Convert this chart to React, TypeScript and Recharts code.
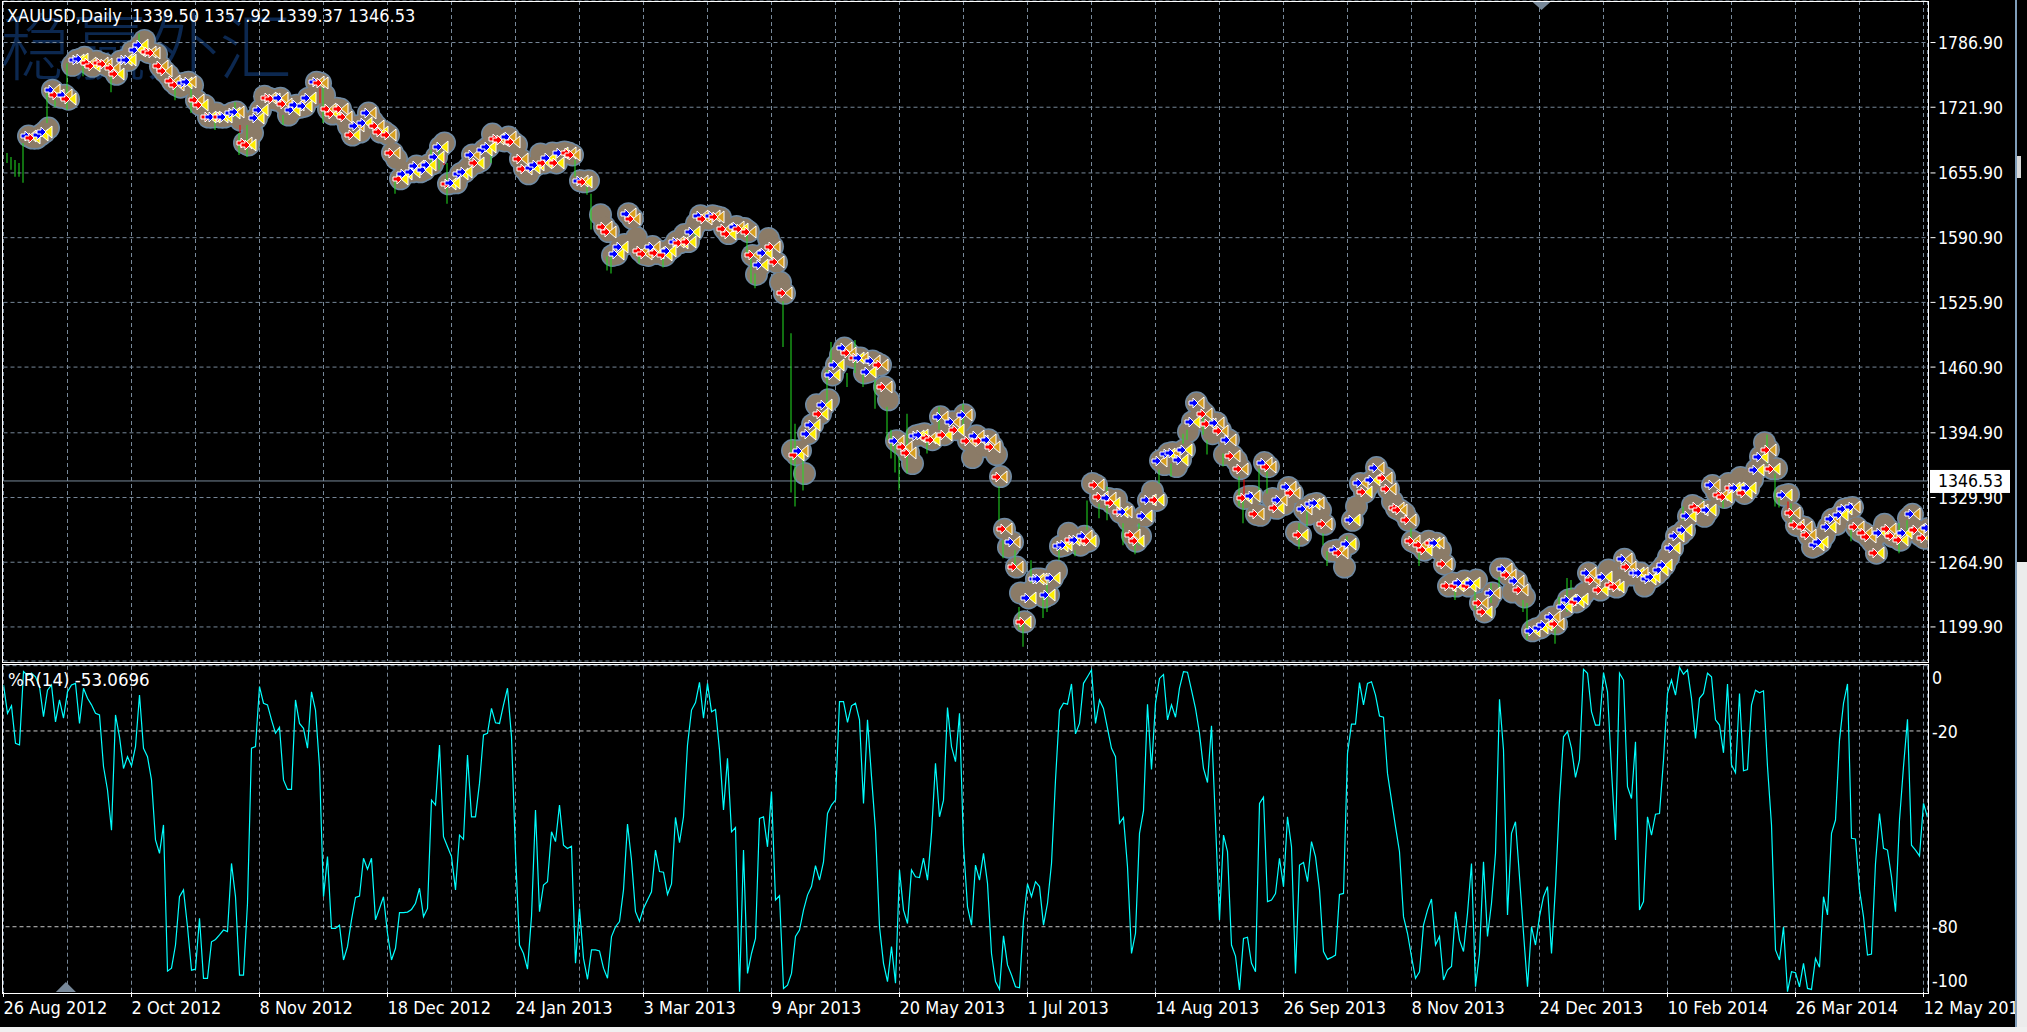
import React from "react";
import { ComposedChart, Line, Bar, Scatter, XAxis, YAxis, CartesianGrid, ReferenceLine, ReferenceDot } from "recharts";

const TITLE = "XAUUSD,Daily  1339.50 1357.92 1339.37 1346.53";
const WPR_TITLE = "%R(14) -53.0696";
const WATERMARK = "稳赢外汇";
const LAST_PRICE = 1346.53;
const priceTicks = [1786.9, 1721.9, 1655.9, 1590.9, 1525.9, 1460.9, 1394.9, 1329.9, 1264.9, 1199.9];
const wprTicks = [0, -20, -80, -100];
const gridBars = [16, 32, 48, 64, 80, 96, 112, 128, 144, 160, 176, 192, 208, 224, 240, 256, 272, 288, 304, 320, 336, 352, 368, 384, 400, 416, 432, 448, 464, 480];
const labelBars = [0, 32, 64, 96, 128, 160, 192, 224, 256, 288, 320, 352, 384, 416, 448, 480];
const dateLabels = ["26 Aug 2012", "2 Oct 2012", "8 Nov 2012", "18 Dec 2012", "24 Jan 2013", "3 Mar 2013", "9 Apr 2013", "20 May 2013", "1 Jul 2013", "14 Aug 2013", "26 Sep 2013", "8 Nov 2013", "24 Dec 2013", "10 Feb 2014", "26 Mar 2014", "12 May 2014"];

const closes: (number | null)[] = [
  null, null, null, null, null, null, 1693, 1691, 1691, 1694, 1697, 1701, 1739, 1734, 1732, 1734, 1730, 1764, 1769, 1770,
  1772, 1766, 1763, 1768, 1766, 1765, 1763, 1761, 1755, 1768, 1769, 1769, 1778, 1779, 1784, 1789, 1777, 1776, 1775, 1763,
  1758, 1754, 1748, 1744, 1742, 1746, 1747, 1744, 1729, 1724, 1724, 1712, 1712, 1716, 1712, 1712, 1714, 1716, 1717, 1709,
  1686, 1684, 1696, 1711, 1719, 1733, 1731, 1730, 1729, 1731, 1725, 1714, 1719, 1724, 1722, 1723, 1731, 1732, 1747, 1746,
  1734, 1720, 1715, 1721, 1720, 1712, 1703, 1694, 1703, 1697, 1706, 1716, 1708, 1703, 1697, 1697, 1694, 1676, 1670, 1650,
  1655, 1657, 1657, 1663, 1657, 1659, 1664, 1665, 1672, 1682, 1686, 1645, 1646, 1646, 1655, 1657, 1661, 1674, 1666, 1668,
  1679, 1682, 1695, 1690, 1689, 1688, 1692, 1687, 1684, 1670, 1660, 1655, 1661, 1664, 1675, 1666, 1671, 1676, 1666, 1676,
  1677, 1676, 1674, null, 1648, 1647, 1648, null, null, 1614, 1602, 1597, 1573, 1574, 1582, 1584, 1615, 1610, 1591, 1578,
  1574, 1573, 1582, 1575, 1577, 1573, 1578, 1581, 1587, 1586, 1594, 1587, 1597, 1605, 1613, 1610, 1609, 1613, 1612, 1611,
  1600, 1595, 1600, 1602, 1600, 1600, 1597, 1573, 1554, 1563, 1575, 1590, 1582, 1566, 1546, 1535, null, 1377, 1373, 1377,
  1354, 1394, 1403, 1423, 1414, 1423, 1428, 1453, 1463, 1473, 1480, 1475, 1471, 1470, 1470, 1455, 1456, 1467, 1465, 1463,
  1441, 1428, null, 1387, 1384, 1381, 1375, 1364, 1392, 1393, 1394, 1390, 1388, 1394, 1411, 1393, 1398, 1406, 1398, 1406,
  1413, 1387, 1370, 1392, 1387, 1381, 1388, 1381, 1373, 1351, 1298, 1280, 1285, 1260, 1234, 1205, 1229, 1237, 1248, 1248,
  1230, 1232, 1249, 1256, 1281, 1282, 1294, 1287, 1287, 1282, 1291, 1286, 1344, 1342, 1330, 1329, 1329, 1324, 1328, 1315,
  1315, 1307, 1292, 1286, 1291, 1311, 1327, 1336, 1327, 1367, 1363, 1374, 1375, 1361, 1368, 1378, 1396, 1406, 1425, 1418,
  1414, 1404, 1394, 1405, 1397, 1373, 1388, 1372, 1367, 1359, 1329, 1331, 1331, 1313, 1312, 1365, 1361, 1329, 1319, 1327,
  1323, 1340, 1334, 1295, 1292, 1318, 1313, 1323, 1324, 1317, 1303, null, 1276, 1277, 1274, 1260, 1283, 1307, 1321, 1344,
  1335, 1342, 1347, 1360, 1351, 1350, 1338, 1326, 1319, 1317, 1314, 1307, 1286, 1284, 1282, 1277, 1286, 1284, 1284, 1277,
  1263, 1241, 1244, 1241, 1244, 1246, 1241, 1244, 1247, 1224, 1215, 1227, 1234, null, 1258, 1258, 1252, 1235, 1246, 1237,
  1230, null, 1196, 1198, 1199, 1202, 1207, 1210, 1203, null, 1220, 1227, 1228, 1225, 1228, 1234, 1254, 1247, 1240, 1237,
  1250, 1257, 1242, 1240, 1248, 1268, 1260, 1252, 1254, 1254, 1241, 1248, 1250, 1253, 1257, 1262, 1270, 1279, 1291, 1293,
  1297, 1311, 1322, 1320, 1317, 1311, 1317, 1342, 1335, 1332, 1330, 1344, 1339, 1339, 1350, 1334, 1339, 1348, 1358, 1371,
  1385, 1378, 1359, 1359, null, 1332, 1333, 1314, 1302, 1301, 1300, 1292, 1280, 1282, 1285, 1292, 1300, 1308, 1303, 1312,
  1318, 1319, 1320, 1300, 1296, 1294, 1290, 1285, 1274, 1294, 1303, 1298, 1291, 1290, 1287, 1294, 1309, 1313, 1297, 1292,
  1289, 1299,
];

const wickBarIndex = [1, 2, 3, 4, 5, 11, 13, 16, 20, 27, 34, 43, 47, 53, 58, 59, 61, 70, 80, 98, 107, 109, 111, 122, 143, 146, 147, 151, 152, 159, 165, 173, 186, 187, 188, 195, 197, 198, 200, 206, 207, 211, 213, 215, 218, 221, 222, 223, 224, 226, 231, 234, 240, 249, 250, 253, 254, 255, 257, 260, 261, 264, 268, 271, 274, 276, 280, 283, 284, 289, 292, 295, 296, 300, 301, 302, 305, 309, 310, 314, 316, 324, 326, 330, 331, 336, 352, 354, 363, 368, 372, 374, 380, 381, 388, 389, 391, 392, 420, 425, 430, 441, 443, 444, 447, 462, 474, 476];
const wickHighs = [1676, 1672, 1669, 1666, 1686, 1736, 1729, 1766, 1763, 1754, 1796, 1744, 1741, 1716, 1727, 1696, 1704, 1714, 1744, 1652, 1679, 1686, 1666, 1682, 1669, 1642, 1635, 1572, 1572, 1578, 1575, 1599, 1594, 1578, 1555, 1527, 1495, 1404, 1374, 1458, 1486, 1455, 1488, 1455, 1448, 1421, 1398, 1384, 1371, 1414, 1394, 1421, 1424, 1341, 1287, 1277, 1220, 1207, 1267, 1234, 1247, 1277, 1277, 1327, 1324, 1341, 1304, 1287, 1304, 1358, 1364, 1394, 1398, 1416, 1388, 1416, 1374, 1351, 1327, 1359, 1356, 1304, 1317, 1294, 1276, 1291, 1299, 1274, 1240, 1244, 1244, 1250, 1227, 1224, 1204, 1230, 1249, 1247, 1321, 1327, 1334, 1393, 1354, 1329, 1324, 1297, 1304, 1307];
const wickLows = [1666, 1659, 1652, 1652, 1646, 1706, 1722, 1719, 1753, 1737, 1779, 1729, 1716, 1699, 1712, 1674, 1672, 1704, 1706, 1635, 1655, 1659, 1625, 1666, 1652, 1634, 1599, 1558, 1555, 1565, 1561, 1590, 1575, 1545, 1540, 1481, 1335, 1321, 1337, 1424, 1461, 1441, 1455, 1441, 1419, 1388, 1369, 1355, 1337, 1354, 1374, 1398, 1398, 1307, 1269, 1257, 1197, 1180, 1244, 1209, 1215, 1267, 1271, 1297, 1309, 1307, 1282, 1273, 1282, 1344, 1351, 1384, 1388, 1393, 1373, 1404, 1361, 1321, 1304, 1326, 1334, 1278, 1301, 1282, 1261, 1284, 1284, 1261, 1227, 1217, 1224, 1237, 1215, 1187, 1183, 1220, 1215, 1237, 1307, 1319, 1319, 1364, 1321, 1320, 1301, 1286, 1274, 1296];
const downBarIndex = [59, 79, 110, 310, 446];
const downBarHighs = [1704, 1741, 1674, 1348, 1326];
const downBarLows = [1696, 1726, 1664, 1331, 1318];

const wprValues = [
  -5.9, -14.6, -12.3, -23.8, -24.3, -1.8, -2.9, -2.3, -3.4, -6.4, -15.6, -7.5, -5.9, -17.2, -10.5, -16.1, -8, -5.9, -5.4, -17.7,
  -6.9, -10, -12, -14.6, -15.1, -30.9, -38.1, -50.4, -15.1, -21.8, -31.5, -27.9, -30.7, -24.8, -9, -25.3, -27.9, -35, -53.4, -57.5,
  -48.8, -93.6, -92.7, -85.6, -70.8, -68.7, -80, -93.3, -93, -77.4, -95.8, -95.8, -84.6, -83.9, -82.5, -81, -81.5, -60.6, -70.8, -94.8,
  -94.8, -72.8, -25.3, -24.8, -6.4, -11.5, -12, -16.6, -20.7, -18.9, -35, -37.9, -37.9, -10.5, -17.7, -19.2, -25.3, -8, -13.6, -30.9,
  -70.8, -58.5, -80.5, -80.5, -79.5, -90.2, -86.1, -77.9, -71, -70.6, -59, -62.4, -59, -77.9, -74.4, -70.8, -82, -90.2, -86.6, -75.7,
  -75.7, -75.5, -74.7, -72.8, -68.2, -76.9, -74.4, -41.2, -42.7, -24.3, -52.4, -55.5, -58.5, -68.7, -51.9, -53.2, -27.4, -46.3, -46.3, -36,
  -21.2, -20.7, -13.1, -17.5, -17.7, -12, -6.9, -21.8, -57.5, -85.6, -88.2, -93, -76.9, -44.2, -75.4, -67.2, -66.2, -50.9, -53.9, -42.7,
  -55, -56, -55.3, -91.2, -74.4, -89.7, -96.1, -87.1, -87.1, -87.4, -92.7, -95.8, -83, -80, -78.4, -68.7, -48.5, -59.6, -75.4, -78.4,
  -74.4, -71.8, -69.3, -56.5, -63.1, -63.3, -70.1, -66.9, -46.5, -54.2, -46.3, -24.3, -13.6, -11.3, -5.1, -16.1, -5.4, -14.1, -13.4, -25.8,
  -44.2, -28.4, -50.9, -49.6, -99.9, -56.5, -94.3, -88.2, -83.6, -46.8, -46.3, -55.5, -38.6, -71.8, -70.5, -98.9, -97.9, -94.3, -83, -81,
  -74.9, -70.3, -67.7, -61.3, -65.7, -60.1, -45.3, -42.7, -41.2, -11, -11, -17.4, -12.3, -11.5, -16.6, -42.2, -16.6, -34, -50.4, -80,
  -91.2, -96.8, -86.1, -97.3, -62.6, -74.9, -79, -62.6, -64.7, -64.9, -59, -65.7, -51.4, -29.9, -46.3, -41.2, -12.8, -24.8, -29.4, -14.6,
  -55, -73.9, -79.5, -61.1, -65.7, -57.5, -66.7, -88.2, -96.8, -99.2, -82.8, -91.7, -94.8, -98.4, -98.7, -77.9, -66.9, -70.8, -66.2, -67.7,
  -79.5, -72.8, -60.6, -35, -13.6, -11.5, -11.8, -5.6, -20.9, -17.7, -5.4, -3.4, -1.3, -17.7, -10.5, -13.1, -19.2, -25.3, -27.9, -48.3,
  -46.5, -61.6, -88.2, -82, -51.4, -44.4, -11.8, -31.8, -11.5, -3.9, -2.7, -16.6, -12, -15.8, -6.9, -1.8, -2, -7.5, -13.1, -20.7,
  -31.5, -35.8, -18.4, -48.3, -77.9, -51.9, -57, -85.6, -89, -99.4, -83.6, -83.2, -91.2, -93.8, -42.2, -40.3, -72.3, -71.8, -69.8, -59,
  -67.7, -46.3, -55.5, -94.3, -61.1, -60.3, -66.2, -53.9, -58.5, -68.7, -87.6, -90, -89.4, -88.7, -70.1, -69.8, -26.9, -17.9, -17.9, -5.2,
  -12, -5.4, -4.9, -9, -15.4, -15.8, -33, -41.2, -49.3, -57, -76.9, -82, -89.2, -95.8, -93.8, -79.5, -74.9, -71.5, -85.6, -83,
  -96.3, -93.3, -92.2, -75.4, -84.1, -87.6, -75.9, -60.6, -98.4, -88.2, -60.1, -83, -72.8, -57.5, -10.3, -25.8, -76.4, -51.4, -47.8, -64.7,
  -82, -98.4, -80, -85.6, -76.9, -70.8, -67.7, -88.2, -67.7, -41.2, -21.8, -20.2, -25.3, -34.2, -28.9, -1.1, -2.3, -14.1, -18.2, -18.2,
  -2.1, -8, -32, -53.4, -2.3, -4.4, -37.1, -40.7, -23.3, -74.9, -72.3, -46.3, -51.9, -45.5, -45.3, -28.9, -8.5, -4.4, -9, -0.5,
  -2.6, -1.3, -10, -22.3, -10, -8.5, -2.3, -3.4, -16.6, -18.2, -26.7, -5.6, -30.4, -32.8, -8.5, -32.2, -31.8, -12, -7.5, -8.3,
  -7.7, -30.9, -48.8, -87.1, -90.2, -80, -99.9, -93.8, -94.1, -98.4, -91.2, -98.9, -99.2, -89.7, -92.4, -70.8, -76.4, -51.4, -47.3, -22.8,
  -11.5, -5.6, -52.9, -53.1, -68.7, -76.9, -88.7, -88.4, -60.6, -45.3, -56, -56.5, -64.7, -75.4, -47.3, -30.9, -16.4, -55, -56.5, -58.3,
  -42.2, -46.5,
];

const FONT = "'DejaVu Sans Condensed', 'Liberation Sans', sans-serif";
const FONT_SIZE = 17.5;
const TEXT_SIZE = 18;
const GRID = "#778899";
const BLUE = "#0000ff";
const RED = "#ff0000";
const YELLOW = "#ffee00";
const ORANGE = "#d9a020";

const table = closes.map((close, i) => {
  const w = wickBarIndex.indexOf(i);
  const d = downBarIndex.indexOf(i);
  const prev = i > 0 ? closes[i - 1] : null;
  const next = i < closes.length - 1 ? closes[i + 1] : null;
  return {
    i,
    close,
    marked: i % 3 !== 2,
    rising: prev != null && close != null ? close >= prev : true,
    nextRising: next != null && close != null ? next >= close : false,
    wick: w >= 0 ? [wickLows[w], wickHighs[w]] : null,
    downWick: d >= 0 ? [downBarLows[d], downBarHighs[d]] : null,
    wpr: wprValues[i],
  };
});

const HaloEdge = (p: any) => {
  if (p.cy == null || p.payload?.close == null) return <g />;
  return <circle cx={p.cx + 1} cy={p.cy} r={11.5} fill="#6f8aa3" />;
};
const HaloFill = (p: any) => {
  if (p.cy == null || p.payload?.close == null) return <g />;
  return <circle cx={p.cx + 1} cy={p.cy} r={10} fill="#8b7b67" />;
};

const TriangleDot = (p: any) => {
  if (p.cy == null || p.payload?.close == null || !p.payload.marked) return <g />;
  const ax = Math.round(p.cx) - 2;
  const ay = Math.round(p.cy);
  return <path d={`M${ax + 10} ${ay - 6}V${ay + 6}L${ax + 3} ${ay}Z`} fill={p.payload.nextRising ? YELLOW : ORANGE} stroke="#ffffff" strokeWidth={1} />;
};

const ArrowDot = (p: any) => {
  if (p.cy == null || p.payload?.close == null || !p.payload.marked) return <g />;
  const ax = Math.round(p.cx) - 2;
  const ay = Math.round(p.cy);
  return <path d={`M${ax - 5} ${ay - 2}H${ax - 1}V${ay - 5}L${ax + 4} ${ay}L${ax - 1} ${ay + 5}V${ay + 2}H${ax - 5}Z`} fill={p.payload.rising ? BLUE : RED} stroke="#ffffff" strokeWidth={1} />;
};

const PriceTag = (p: any) => {
  const y = p.viewBox.y;
  return (
    <g>
      <rect x={1930} y={y - 11} width={80} height={23} fill="#ffffff" />
      <text x={1938} y={y + 6.5} fontFamily={FONT} fontSize={FONT_SIZE} fill="#000000">{LAST_PRICE.toFixed(2)}</text>
    </g>
  );
};

const PriceTick = (p: any) => (
  <g>
    <line x1={p.x - 5} x2={p.x} y1={p.y} y2={p.y} stroke="#ffffff" />
    <text x={1938} y={p.y + 6.5} fontFamily={FONT} fontSize={FONT_SIZE} fill="#ffffff">{Number(p.payload.value).toFixed(2)}</text>
  </g>
);

const WprTick = (p: any) => {
  const v = p.payload.value;
  const shift = v === 0 ? 12 : v === -100 ? -12 : v === -80 ? -0.5 : 0.5;
  return <text x={1932} y={p.y + shift + 6.5} fontFamily={FONT} fontSize={FONT_SIZE} fill="#ffffff">{v}</text>;
};

const DateTick = (p: any) => {
  const k = labelBars.indexOf(p.payload.value);
  if (k < 0) return <g />;
  return (
    <g>
      <line x1={p.x} x2={p.x} y1={p.y} y2={p.y + 5} stroke="#ffffff" />
      <text x={p.x} y={p.y + 22} fontFamily={FONT} fontSize={TEXT_SIZE} fill="#ffffff">{dateLabels[k]}</text>
    </g>
  );
};

const TopMarker = (p: any) => <path d={`M${p.cx - 10} ${p.cy}H${p.cx + 10}L${p.cx} ${p.cy + 9}Z`} fill="#778899" />;
const BottomMarker = (p: any) => <path d={`M${p.cx - 10} ${p.cy}H${p.cx + 10}L${p.cx} ${p.cy - 10}Z`} fill="#778899" />;

const abs = (l: number, t: number, w: number, h: number, extra: any = {}): any => ({ position: "absolute", left: l, top: t, width: w, height: h, boxSizing: "border-box", ...extra });
const label: any = { position: "absolute", color: "#ffffff", fontFamily: FONT, fontSize: TEXT_SIZE, whiteSpace: "pre", lineHeight: "20px" };

export default function App() {
  return (
    <div style={abs(0, 0, 2027, 1032, { background: "#000000", overflow: "hidden" })}>
      <div style={{ ...label, left: 0, top: 2, color: "#0c2850", fontSize: 73, lineHeight: "80px", fontFamily: "'Noto Sans CJK SC'", fontWeight: 300 }}>{WATERMARK}</div>

      <div style={abs(0, 0, 2027, 662)}>
        <ComposedChart width={2027} height={662} data={table} margin={{ top: 1, right: 0, bottom: 1, left: 3.5 }}>
          <CartesianGrid stroke={GRID} strokeDasharray="4 3" />
          <XAxis dataKey="i" type="number" domain={[0, 481]} ticks={gridBars} hide allowDataOverflow />
          <YAxis orientation="right" width={99.5} domain={[1165.7, 1828.6]} ticks={priceTicks} tick={PriceTick} tickLine={false} axisLine={false} interval={0} allowDataOverflow />
          <ReferenceLine y={LAST_PRICE} stroke="#778899" label={PriceTag} />
          <ReferenceDot x={384.5} y={1828.6} r={0} shape={TopMarker} ifOverflow="visible" />
          <Scatter dataKey="close" data={table} shape={HaloEdge} isAnimationActive={false} legendType="none" zIndex={440} />
          <Scatter dataKey="close" data={table} shape={HaloFill} isAnimationActive={false} legendType="none" zIndex={450} />
          <Bar dataKey="wick" barSize={1} fill="#22e022" isAnimationActive={false} zIndex={500} />
          <Bar dataKey="downWick" barSize={1} fill="#ff0000" isAnimationActive={false} zIndex={510} />
          <Scatter dataKey="close" data={table} shape={TriangleDot} isAnimationActive={false} legendType="none" zIndex={550} />
          <Scatter dataKey="close" data={table} shape={ArrowDot} isAnimationActive={false} legendType="none" zIndex={600} />
        </ComposedChart>
      </div>

      <div style={abs(0, 660, 2027, 372)}>
        <ComposedChart width={2027} height={372} data={table} margin={{ top: 5.7, right: 0, bottom: 0, left: 3.5 }}>
          <CartesianGrid stroke={GRID} strokeDasharray="4 3" horizontal={false} />
          <XAxis dataKey="i" type="number" domain={[0, 481]} ticks={labelBars.concat(gridBars).filter((v, k, a) => a.indexOf(v) === k).sort((a, b) => a - b)} tick={DateTick} tickLine={false} axisLine={false} height={40} tickSize={0} tickMargin={0} interval={0} allowDataOverflow />
          <YAxis orientation="right" width={99.5} domain={[-100, 0]} ticks={wprTicks} tick={WprTick} tickLine={false} axisLine={false} interval={0} allowDataOverflow />
          <ReferenceLine y={0} stroke={GRID} strokeDasharray="4 3" />
          <ReferenceLine y={-20} stroke="#c8c8c8" strokeDasharray="4 3" />
          <ReferenceLine y={-80} stroke="#c8c8c8" strokeDasharray="4 3" />
          <ReferenceDot x={15.6} y={-100} r={0} shape={BottomMarker} ifOverflow="visible" />
          <Line dataKey="wpr" stroke="#00ffff" strokeWidth={1.2} type="linear" dot={false} activeDot={false} isAnimationActive={false} legendType="none" />
        </ComposedChart>
      </div>

      <div style={{ ...label, left: 7, top: 6 }}>{TITLE}</div>
      <div style={{ ...label, left: 8, top: 670, fontSize: 18.5 }}>{WPR_TITLE}</div>

      <div style={abs(2, 1, 1927, 662, { border: "1px solid #ffffff" })} />
      <div style={abs(2, 664, 1927, 330, { border: "1px solid #ffffff" })} />

      <div style={abs(2015, 0, 2, 1028, { background: "#7f9db9" })} />
      <div style={abs(2017, 0, 10, 562, { background: "#000000" })} />
      <div style={abs(2017, 562, 10, 470, { background: "#ececec" })} />
      <div style={abs(2017, 156, 4, 22, { background: "#d8d8d8" })} />
      <div style={abs(0, 1027, 2027, 5, { background: "#f0f0f0" })} />
    </div>
  );
}
